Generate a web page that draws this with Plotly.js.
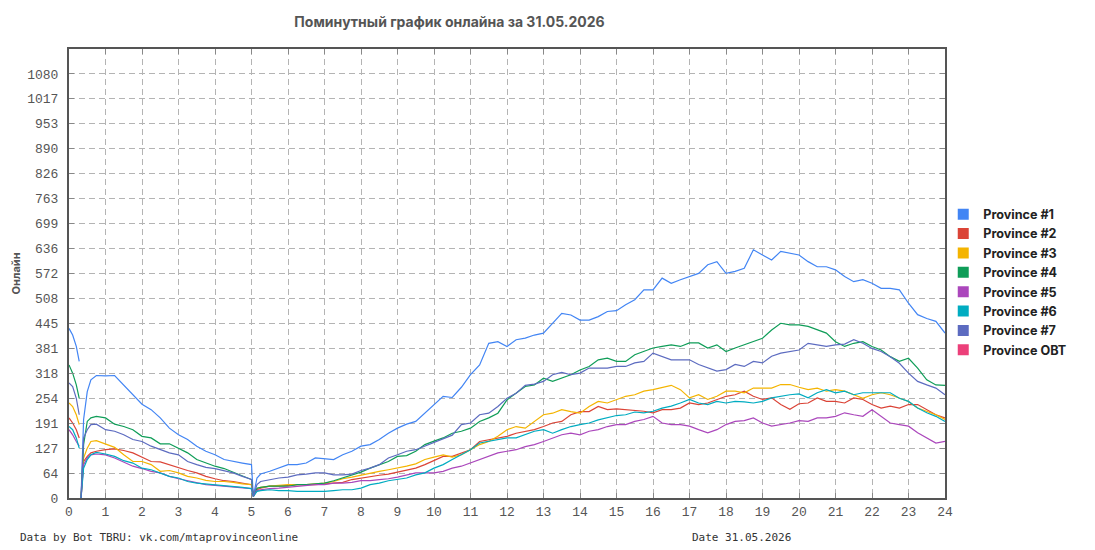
<!DOCTYPE html>
<html>
<head>
<meta charset="utf-8">
<script src="https://cdn.plot.ly/plotly-3.0.1.min.js"></script>
<style>
html,body{margin:0;padding:0;background:#fff;}
#chart{width:1095px;height:550px;}
</style>
</head>
<body>
<div id="chart"></div>
<script>
// Time of day in hours
const hours = [0, 0.1, 0.2, 0.28, 0.3, 0.33, 0.4, 0.5, 0.6, 0.75,
  1, 1.25, 1.5, 1.75, 2, 2.25, 2.5, 2.75, 3, 3.25, 3.5, 3.75, 4, 4.25, 4.5, 4.75,
  5, 5.05, 5.15, 5.25, 5.5, 5.75, 6, 6.25, 6.5, 6.75, 7, 7.25, 7.5, 7.75, 8, 8.25, 8.5, 8.75, 9, 9.25, 9.5, 9.75,
  10, 10.25, 10.5, 10.75, 11, 11.25, 11.5, 11.75, 12, 12.25, 12.5, 12.75, 13, 13.25, 13.5, 13.75, 14, 14.25, 14.5, 14.75,
  15, 15.25, 15.5, 15.75, 16, 16.25, 16.5, 16.75, 17, 17.25, 17.5, 17.75, 18, 18.25, 18.5, 18.75, 19, 19.25, 19.5, 19.75,
  20, 20.25, 20.5, 20.75, 21, 21.25, 21.5, 21.75, 22, 22.25, 22.5, 22.75, 23, 23.25, 23.5, 23.75, 24];

const province1 = [432, 415, 386, 348, null, 0, 200, 271, 301, 312,
  311, 312, 288, 263, 239, 225, 204, 178, 161, 149, 132, 119, 110, 98, 93, 89,
  85, 4, 51, 61, 68, 76, 85, 85, 89, 102, 100, 98, 110, 119, 132, 136, 149, 165, 178, 188, 195, 216,
  238, 259, 256, 282, 314, 339, 394, 398, 386, 403, 407, 415, 420, 445, 470, 466, 453, 453, 462, 475,
  477, 492, 505, 530, 530, 560, 547, 556, 564, 572, 594, 602, 572, 577, 585, 632, 619, 606, 628, 623,
  619, 602, 589, 589, 581, 564, 551, 556, 547, 534, 534, 530, 496, 467, 457, 450, 420];

const province2 = [204, 191, 174, 153, null, 0, 93, 106, 115, 119,
  123, 125, 121, 115, 104, 93, 92, 85, 76, 70, 64, 55, 49, 44, 42, 38,
  34, 4, 21, 25, 30, 30, 32, 34, 34, 34, 36, 38, 40, 47, 51, 55, 58, 61, 66, 72, 76, 85,
  95, 106, 106, 115, 123, 144, 148, 153, 157, 165, 170, 174, 182, 191, 195, 212, 220, 220, 233, 225,
  227, 225, 223, 221, 217, 225, 225, 229, 242, 238, 242, 251, 259, 263, 272, 259, 251, 255, 238, 226,
  240, 242, 255, 246, 246, 242, 255, 251, 238, 229, 234, 229, 238, 238, 225, 212, 204];

const province3 = [242, 233, 212, 187, null, 0, 102, 127, 144, 146,
  138, 129, 110, 93, 93, 85, 68, 70, 64, 55, 51, 45, 42, 42, 40, 36,
  34, 4, 24, 27, 30, 32, 34, 34, 34, 36, 38, 42, 49, 53, 58, 64, 68, 72, 76, 81, 87, 98,
  104, 110, 104, 110, 123, 136, 144, 157, 174, 182, 178, 195, 212, 216, 225, 220, 216, 233, 246, 242,
  250, 259, 263, 272, 276, 282, 287, 276, 255, 263, 251, 259, 272, 272, 268, 280, 280, 280, 289, 289,
  282, 276, 280, 272, 276, 272, 263, 254, 263, 268, 263, 254, 246, 229, 221, 212, 200];

const province4 = [339, 318, 288, 254, null, 0, 136, 195, 204, 208,
  204, 188, 182, 174, 157, 153, 138, 138, 127, 115, 98, 89, 81, 75, 66, 55,
  47, 4, 25, 27, 30, 30, 30, 34, 34, 36, 38, 44, 51, 59, 66, 76, 85, 93, 106, 108, 119, 136,
  145, 153, 165, 170, 178, 195, 204, 216, 250, 267, 284, 288, 305, 297, 305, 314, 326, 335, 352, 356,
  348, 348, 365, 373, 382, 386, 390, 386, 395, 395, 382, 390, 373, 382, 390, 399, 407, 428, 445, 441,
  441, 437, 429, 420, 398, 386, 394, 398, 386, 377, 360, 348, 356, 331, 301, 288, 287];

const province5 = [174, 161, 144, 132, null, 0, 85, 102, 110, 112,
  110, 102, 92, 81, 75, 68, 64, 55, 49, 44, 38, 34, 32, 30, 28, 25,
  24, 4, 19, 21, 24, 25, 27, 30, 32, 34, 34, 38, 38, 40, 44, 44, 47, 49, 53, 58, 64, 64,
  64, 68, 76, 81, 89, 98, 106, 115, 119, 123, 131, 136, 144, 153, 161, 165, 161, 170, 174, 182,
  187, 187, 195, 200, 208, 191, 187, 187, 183, 174, 166, 174, 187, 195, 197, 204, 191, 183, 187, 191,
  197, 195, 204, 204, 208, 217, 212, 208, 225, 208, 191, 187, 183, 166, 153, 140, 144];

const province6 = [182, 174, 153, 127, null, 0, 76, 98, 110, 116,
  112, 106, 95, 89, 76, 72, 64, 55, 51, 42, 38, 36, 34, 32, 30, 27,
  24, 4, 17, 19, 21, 19, 19, 17, 17, 17, 17, 19, 21, 21, 25, 34, 38, 44, 47, 51, 59, 64,
  76, 85, 98, 110, 123, 140, 144, 148, 153, 153, 161, 170, 174, 165, 174, 182, 187, 191, 199, 204,
  210, 212, 219, 217, 221, 229, 234, 242, 251, 242, 238, 246, 242, 246, 245, 242, 246, 255, 259, 263,
  265, 255, 268, 276, 268, 272, 263, 268, 268, 268, 268, 254, 246, 229, 217, 208, 195];

const province7 = [293, 284, 254, 212, null, 0, 153, 174, 187, 188,
  174, 170, 161, 149, 144, 132, 123, 115, 110, 93, 85, 78, 75, 70, 64, 55,
  47, 4, 34, 42, 47, 51, 53, 59, 61, 64, 64, 59, 59, 61, 70, 76, 85, 102, 110, 119, 123, 132,
  142, 150, 160, 187, 191, 212, 216, 233, 254, 267, 287, 290, 297, 314, 320, 314, 318, 331, 331, 331,
  335, 335, 344, 348, 369, 361, 352, 352, 352, 340, 331, 323, 327, 340, 335, 348, 344, 361, 369, 373,
  377, 394, 390, 386, 390, 392, 403, 394, 381, 373, 360, 343, 318, 297, 288, 280, 263];

const provinceOBT = [];

const seriesNames = ['Province #1', 'Province #2', 'Province #3', 'Province #4',
  'Province #5', 'Province #6', 'Province #7', 'Province OBT'];
const seriesValues = [province1, province2, province3, province4,
  province5, province6, province7, provinceOBT];
const seriesColors = ['#4285f4', '#db4437', '#f4b400', '#0f9d58',
  '#ab47bc', '#00acc1', '#5c6bc0', '#ec407a'];

const yTickLabels = [0, 64, 127, 191, 254, 318, 381, 445, 508, 572, 636, 699, 763, 826, 890, 953, 1017, 1080];
const yStep = 1080 / 17;
const yTickVals = yTickLabels.map((_, i) => i * yStep);
const xTickVals = Array.from({length: 25}, (_, i) => i);

const titleText = 'Поминутный график онлайна за 31.05.2026';
const yTitleText = 'Онлайн';
const footerLeft = 'Data by Bot TBRU: vk.com/mtaprovinceonline';
const footerRight = 'Date 31.05.2026';

const traces = [];
seriesNames.forEach((name, i) => {
  const vals = seriesValues[i];
  traces.push({
    type: 'scatter', mode: 'lines', name: name,
    x: hours.slice(0, vals.length), y: vals,
    line: {color: seriesColors[i], width: 1.2},
    showlegend: false, hoverinfo: 'skip'
  });
});
seriesNames.forEach((name, i) => {
  traces.push({
    type: 'scatter', mode: 'markers', name: name,
    x: [null], y: [null],
    marker: {symbol: 'square', size: 11, color: seriesColors[i]},
    showlegend: true
  });
});

const monoTick = {family: 'Liberation Mono, DejaVu Sans Mono, monospace', size: 13, color: '#555'};

const layout = {
  width: 1095, height: 550,
  margin: {l: 69, r: 150, t: 49, b: 52},
  paper_bgcolor: '#fff', plot_bgcolor: '#fff',
  title: {
    text: '<b>' + titleText + '</b>',
    font: {family: 'Inter, Roboto, sans-serif', size: 14, color: '#555'},
    xref: 'container', x: 449.5 / 1095, xanchor: 'center',
    yref: 'container', y: 1 - 22 / 550, yanchor: 'middle'
  },
  xaxis: {
    range: [0, 24], tickvals: xTickVals, ticktext: xTickVals.map(String),
    showgrid: true, gridcolor: '#b4b4b4', griddash: '6px,4px', gridwidth: 1,
    showline: true, linecolor: '#555', linewidth: 2, mirror: 'ticks',
    ticks: 'inside', ticklen: 5, tickcolor: '#888',
    tickfont: monoTick, zeroline: false, fixedrange: true
  },
  yaxis: {
    range: [0, 18 * yStep], tickvals: yTickVals, ticktext: yTickLabels.map(String),
    showgrid: true, gridcolor: '#b4b4b4', griddash: '6px,4px', gridwidth: 1,
    showline: true, linecolor: '#555', linewidth: 2, mirror: 'ticks',
    ticks: 'inside', ticklen: 5, tickcolor: '#888',
    tickfont: monoTick, ticklabelstandoff: 6, zeroline: false, fixedrange: true,
    title: {text: '<b>' + yTitleText + '</b>', font: {family: 'Inter, Roboto, sans-serif', size: 11, color: '#555'}, standoff: 4}
  },
  legend: {
    x: 0.998, xanchor: 'left', y: 0.48, yanchor: 'middle',
    font: {family: 'Inter, Roboto, sans-serif', size: 12.6, color: '#222', weight: 'bold'},
    tracegroupgap: 0, itemwidth: 30, bgcolor: 'rgba(0,0,0,0)'
  },
  annotations: [
    {text: footerLeft, xref: 'paper', yref: 'paper', x: -69 / 876 + 18 / 876, y: -39 / 449,
      xanchor: 'left', yanchor: 'middle', showarrow: false,
      font: {family: 'DejaVu Sans Mono, monospace', size: 11, color: '#333'}},
    {text: footerRight, xref: 'paper', yref: 'paper', x: (690 - 69) / 876, y: -39 / 449,
      xanchor: 'left', yanchor: 'middle', showarrow: false,
      font: {family: 'DejaVu Sans Mono, monospace', size: 11, color: '#333'}}
  ],
  showlegend: true
};

Plotly.newPlot('chart', traces, layout, {staticPlot: true, displayModeBar: false});
</script>
</body>
</html>
